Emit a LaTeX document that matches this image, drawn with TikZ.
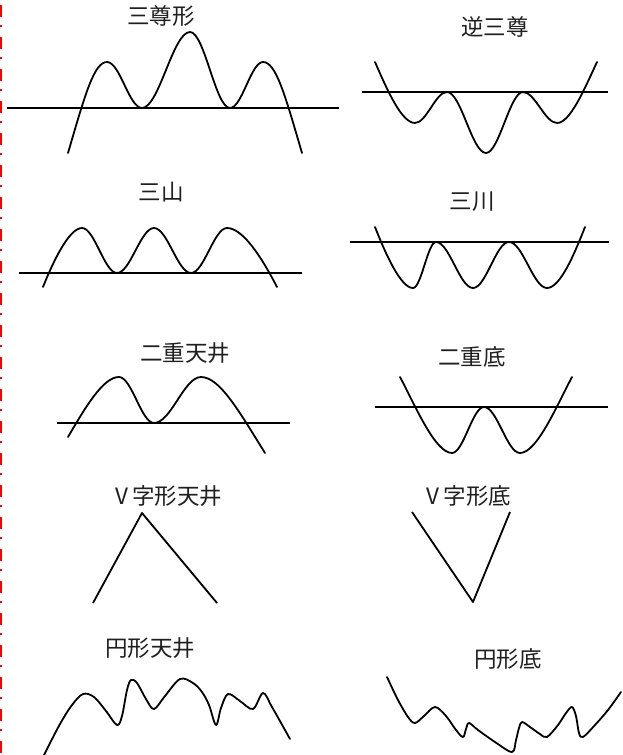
\documentclass[tikz,border=0pt]{standalone}
\usepackage{fontspec}
\newfontfamily\cjk{Noto Sans CJK JP}
\begin{document}
\begin{tikzpicture}[x=1pt,y=1pt,
  ttl/.style={font=\cjk\fontsize{22.5}{26}\selectfont, text=black!88, inner sep=0pt, anchor=center},
  base/.style={line width=2pt, black},
  wave/.style={line width=1.8pt, black, line join=round, line cap=round},
  border/.style={red, line width=2pt, dash pattern=on 12pt off 8pt on 2pt off 10pt, dash phase=-5pt}]
\useasboundingbox (0,0) rectangle (622,-755);
\fill[white] (0,0) rectangle (622,-755);
% red dash-dot border at left
\draw[border] (1,0) -- (1,-755);

% titles
\node[ttl] (t1) at (161,-16) {三尊形};
\node[ttl] (t2) at (495,-27) {逆三尊};
\node[ttl] (t3) at (161,-192) {三山};
\node[ttl] (t4) at (472,-202) {三川};
\node[ttl] (t5) at (185,-353) {二重天井};
\node[ttl] (t6) at (472,-357) {二重底};
\node[ttl] (t7) at (169,-496) {V\,字形天井};
\node[ttl] (t8) at (469,-496) {V\,字形底};
\node[ttl] (t9) at (150,-648) {円形天井};
\node[ttl] (t10) at (508,-659) {円形底};

% 三尊形
\draw[base] (7,-108) -- (339,-108);
\draw[wave] (68,-153) .. controls (85,-95) and (94,-62) .. (107,-62)
  .. controls +(13,0) and +(-13,0) .. (142,-108)
  .. controls +(17,0) and +(-17,0) .. (190,-32)
  .. controls +(14.5,0) and +(-14.5,0) .. (230,-108)
  .. controls +(12,0) and +(-12,0) .. (263,-62)
  .. controls (276,-62) and (285,-95) .. (302,-153);

% 逆三尊
\draw[base] (362,-92) -- (608,-92);
\draw[wave] (375,-62) .. controls (388,-92) and (402,-123) .. (415,-123)
  .. controls +(11.5,0) and +(-11.5,0) .. (447,-92)
  .. controls +(14,0) and +(-14,0) .. (486,-153)
  .. controls +(13,0) and +(-13,0) .. (523,-92)
  .. controls +(12,0) and +(-12,0) .. (557,-123)
  .. controls (570,-123) and (584,-90) .. (597,-62);

% 三山
\draw[base] (19,-273) -- (302,-273);
\draw[wave] (43,-287) .. controls (53,-262) and (69,-228) .. (82,-228)
  .. controls +(12.6,0) and +(-12.6,0) .. (117,-273)
  .. controls +(13.3,0) and +(-13.3,0) .. (154,-228)
  .. controls +(13.3,0) and +(-13.3,0) .. (191,-273)
  .. controls +(13,0) and +(-13,0) .. (227,-228)
  .. controls (243,-228) and (262,-258) .. (277,-287);

% 三川
\draw[base] (350,-242) -- (609,-242);
\draw[wave] (375,-227) .. controls (386,-255) and (401,-288) .. (413,-288)
  .. controls +(8.3,0) and +(-8.3,0) .. (436,-242)
  .. controls +(13.3,0) and +(-13.3,0) .. (473,-288)
  .. controls +(13,0) and +(-13,0) .. (509,-242)
  .. controls +(13.7,0) and +(-13.7,0) .. (547,-288)
  .. controls (560,-288) and (574,-255) .. (585,-227);

% 二重天井
\draw[base] (57,-423) -- (290,-423);
\draw[wave] (68,-437) .. controls (85,-408) and (103,-377) .. (119,-377)
  .. controls +(12.6,0) and +(-12.6,0) .. (154,-423)
  .. controls +(17,0) and +(-17,0) .. (201,-377)
  .. controls (220,-377) and (240,-413) .. (265,-453);

% 二重底
\draw[base] (375,-407) -- (608,-407);
\draw[wave] (400,-377) .. controls (415,-405) and (435,-453) .. (452,-453)
  .. controls +(11.5,0) and +(-11.5,0) .. (484,-407)
  .. controls +(13,0) and +(-13,0) .. (520,-453)
  .. controls (537,-453) and (557,-405) .. (572,-377);

% V字形天井
\draw[wave, line cap=butt] (93,-603) -- (142,-513) -- (217,-603);
% V字形底
\draw[wave, line cap=butt] (412,-512) -- (473,-602) -- (510,-512);

% 円形天井
\draw[wave] plot[smooth, tension=0.55] coordinates {
  (44,-755) (60,-724) (72,-705) (83,-694) (94,-697) (106,-711) (117,-725)
  (122,-716) (127,-690) (131,-680) (137,-683) (146,-699) (154,-709)
  (165,-696) (180,-679) (193,-683) (202,-692) (209,-705) (216,-725)
  (221,-708) (228,-694) (240,-701) (253,-709) (263,-693) (272,-707) (290,-739)};

% 円形底
\draw[wave] plot[smooth, tension=0.55] coordinates {
  (387,-677) (398,-700) (408,-717) (415,-723) (424,-716) (435,-707)
  (446,-716) (456,-730) (463,-737) (466,-729) (469,-723) (478,-730)
  (495,-742) (512,-752) (516,-740) (519,-728) (522,-722) (530,-727)
  (540,-734) (547,-737) (558,-725) (566,-713) (572,-707) (576,-716)
  (579,-733) (583,-737) (595,-725) (608,-710) (621,-692)};
\end{tikzpicture}
\end{document}
